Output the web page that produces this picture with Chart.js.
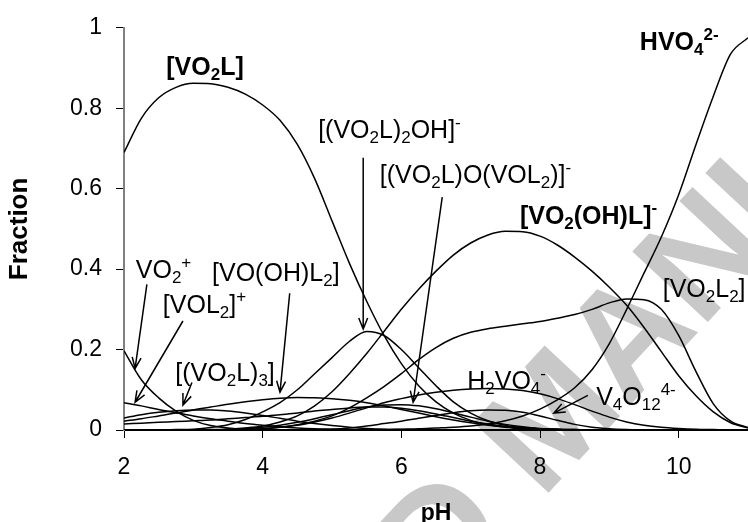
<!DOCTYPE html>
<html>
<head>
<meta charset="utf-8">
<script src="https://cdn.jsdelivr.net/npm/chart.js@4.4.0/dist/chart.umd.min.js"></script>
<style>
  html, body { margin: 0; padding: 0; background: #fff; }
  #wrap { width: 748px; height: 522px; position: relative; }
</style>
</head>
<body>
<div id="wrap"><canvas id="speciation"></canvas></div>
<script>
// pH grid and fractions
const pH = [2.00,2.25,2.50,2.75,3.00,3.25,3.50,3.75,4.00,4.25,4.50,4.75,5.00,5.25,5.50,5.75,6.00,6.25,6.50,6.75,
            7.00,7.25,7.50,7.75,8.00,8.25,8.50,8.75,9.00,9.25,9.50,9.75,10.00,10.25,10.50,10.75,11.00];
const xTicks = [2, 4, 6, 8, 10];
const yTicks = [0, 0.2, 0.4, 0.6, 0.8, 1];
const yTickLabels = ['0', '0.2', '0.4', '0.6', '0.8', '1'];

const vo2 = [0.197,0.125,0.080,0.047,0.024,0.011,0.005,0.002,0.001,0,0,0,0,0,0,0,0,0,0,0,0,0,0,0,0,0,0,0,0,0,0,0,0,0,0,0,0];
const vol2 = [0.068,0.060,0.051,0.043,0.035,0.028,0.022,0.016,0.012,0.008,0.005,0.003,0.002,0.001,0,0,0,0,0,0,0,0,0,0,0,0,0,0,0,0,0,0,0,0,0,0,0];
const trimer = [0.030,0.038,0.044,0.048,0.050,0.050,0.047,0.042,0.036,0.029,0.022,0.016,0.011,0.007,0.004,0.002,0.001,0,0,0,0,0,0,0,0,0,0,0,0,0,0,0,0,0,0,0,0];
const voohl2 = [0.022,0.028,0.035,0.042,0.050,0.057,0.064,0.070,0.075,0.079,0.081,0.080,0.078,0.074,0.068,0.060,0.051,0.042,0.033,0.025,0.018,0.012,0.008,0.005,0.003,0.002,0.001,0,0,0,0,0,0,0,0,0,0];
const minor = [0.015,0.017,0.019,0.021,0.023,0.025,0.028,0.031,0.034,0.038,0.042,0.047,0.051,0.055,0.057,0.057,0.054,0.048,0.040,0.031,0.022,0.015,0.009,0.005,0.003,0.001,0,0,0,0,0,0,0,0,0,0,0];
const vo2l = [0.690,0.775,0.826,0.852,0.862,0.861,0.852,0.835,0.808,0.770,0.710,0.625,0.520,0.415,0.320,0.235,0.165,0.110,0.070,0.042,0.024,0.013,0.007,0.003,0.001,0,0,0,0,0,0,0,0,0,0,0,0];
const dimerOH = [0,0,0,0.001,0.002,0.006,0.013,0.026,0.045,0.068,0.100,0.140,0.180,0.220,0.245,0.235,0.200,0.155,0.110,0.070,0.042,0.023,0.012,0.006,0.003,0.001,0,0,0,0,0,0,0,0,0,0,0];
const mixed = [0,0,0,0,0,0.001,0.002,0.004,0.007,0.012,0.019,0.028,0.038,0.048,0.057,0.062,0.063,0.060,0.053,0.043,0.032,0.022,0.014,0.008,0.004,0.002,0.001,0,0,0,0,0,0,0,0,0,0];
const hydroxo = [0,0,0,0,0,0,0.002,0.005,0.010,0.020,0.035,0.060,0.095,0.140,0.190,0.245,0.300,0.350,0.395,0.435,0.465,0.485,0.494,0.493,0.482,0.460,0.430,0.395,0.355,0.310,0.255,0.195,0.135,0.085,0.045,0.018,0.005];
const vo2l2 = [0,0,0,0,0,0,0,0.001,0.003,0.007,0.013,0.022,0.035,0.055,0.080,0.108,0.140,0.175,0.205,0.228,0.243,0.252,0.258,0.264,0.270,0.278,0.287,0.300,0.316,0.326,0.324,0.300,0.235,0.145,0.065,0.022,0.006];
const h2vo4 = [0,0,0,0,0,0,0.001,0.002,0.004,0.007,0.012,0.020,0.030,0.042,0.055,0.068,0.078,0.087,0.094,0.099,0.102,0.103,0.102,0.098,0.090,0.078,0.063,0.047,0.032,0.020,0.012,0.007,0.004,0.002,0.001,0,0];
const v4o12 = [0,0,0,0,0,0,0,0,0,0,0,0.001,0.002,0.005,0.010,0.016,0.022,0.029,0.036,0.043,0.048,0.050,0.049,0.044,0.035,0.024,0.014,0.007,0.003,0.001,0,0,0,0,0,0,0];
const hvo4 = [0,0,0,0,0,0,0,0,0,0,0,0,0,0,0.001,0.001,0.002,0.003,0.005,0.007,0.010,0.015,0.023,0.035,0.052,0.075,0.105,0.150,0.215,0.300,0.390,0.480,0.585,0.710,0.830,0.935,0.975];

const series = [vo2, vol2, trimer, voohl2, minor, vo2l, dimerOH, mixed, hydroxo, vo2l2, h2vo4, v4o12, hvo4];

// species labels: text with _sub and ^sup, left edge / baseline in data units
const labels = [
    { text: '[VO_2L]', x: 2.61, y: 0.882, bold: true },
    { text: 'HVO_4^{2-}', x: 9.44, y: 0.944, bold: true },
    { text: '[(VO_2L)_2OH]^-', x: 4.80, y: 0.725 },
    { text: '[(VO_2L)O(VOL_2)]^-', x: 5.69, y: 0.614 },
    { text: '[VO_2(OH)L]^-', x: 7.71, y: 0.513, bold: true },
    { text: '[VO_2L_2]', x: 9.77, y: 0.331 },
    { text: 'VO_2^+', x: 2.17, y: 0.377 },
    { text: '[VO(OH)L_2]', x: 3.27, y: 0.370 },
    { text: '[VOL_2]^+', x: 2.56, y: 0.291 },
    { text: '[(VO_2L)_3]', x: 2.74, y: 0.121 },
    { text: 'H_2VO_4^-', x: 6.95, y: 0.101 },
    { text: 'V_4O_{12}^{4-}', x: 8.81, y: 0.062 }
];

// arrows from label to curve [x1, y1, x2, y2]
const arrows = [
    [2.33, 0.362, 2.16, 0.153],
    [2.85, 0.271, 2.16, 0.069],
    [2.98, 0.118, 2.85, 0.062],
    [4.39, 0.340, 4.25, 0.094],
    [5.45, 0.677, 5.45, 0.251],
    [6.59, 0.579, 6.17, 0.069],
    [8.69, 0.086, 8.20, 0.042]
];

const FONT = '"Liberation Sans", Arial, sans-serif';

function parseRich(s) {
    const out = [];
    let buf = '', i = 0;
    while (i < s.length) {
        const c = s[i];
        if (c === '_' || c === '^') {
            if (buf) { out.push({ t: buf, m: 0 }); buf = ''; }
            let t;
            if (s[i + 1] === '{') {
                const j = s.indexOf('}', i);
                t = s.slice(i + 2, j);
                i = j + 1;
            } else {
                t = s[i + 1];
                i += 2;
            }
            out.push({ t: t, m: c === '_' ? 1 : -1 });
        } else {
            buf += c;
            i++;
        }
    }
    if (buf) out.push({ t: buf, m: 0 });
    return out;
}

function drawRich(ctx, text, x, y, size, bold) {
    const w = bold ? 'bold ' : '';
    let cx = x;
    parseRich(text).forEach(seg => {
        const fs = seg.m ? size * 0.68 : size;
        const dy = seg.m === 1 ? size * 0.2 : (seg.m === -1 ? -size * 0.42 : 0);
        ctx.font = w + fs + 'px ' + FONT;
        ctx.fillText(seg.t, cx, y + dy);
        cx += ctx.measureText(seg.t).width;
    });
}

const watermark = {
    id: 'watermark',
    beforeDraw(chart) {
        const ctx = chart.ctx;
        ctx.save();
        ctx.fillStyle = '#fff';
        ctx.fillRect(0, 0, chart.width, chart.height);
        ctx.translate(557, 423);
        ctx.rotate(-47 * Math.PI / 180);
        ctx.font = 'bold 150px ' + FONT;
        ctx.fillStyle = '#c8c8c8';
        ctx.textAlign = 'center';
        ctx.textBaseline = 'middle';
        ctx.fillText('ACCEPTED MANUSCRIPT', 0, 0);
        ctx.restore();
    }
};

const annotations = {
    id: 'annotations',
    afterDatasetsDraw(chart) {
        const ctx = chart.ctx;
        const xs = chart.scales.x, ys = chart.scales.y;
        ctx.save();
        ctx.fillStyle = '#000';
        ctx.textAlign = 'left';
        ctx.textBaseline = 'alphabetic';
        labels.forEach(l => {
            drawRich(ctx, l.text, xs.getPixelForValue(l.x), ys.getPixelForValue(l.y), 25, l.bold);
        });
        ctx.strokeStyle = '#000';
        ctx.lineWidth = 1.5;
        arrows.forEach(a => {
            const x1 = xs.getPixelForValue(a[0]), y1 = ys.getPixelForValue(a[1]);
            const x2 = xs.getPixelForValue(a[2]), y2 = ys.getPixelForValue(a[3]);
            const ang = Math.atan2(y2 - y1, x2 - x1);
            const hl = 12, spread = 0.38;
            ctx.beginPath();
            ctx.moveTo(x1, y1);
            ctx.lineTo(x2, y2);
            ctx.moveTo(x2 - hl * Math.cos(ang - spread), y2 - hl * Math.sin(ang - spread));
            ctx.lineTo(x2, y2);
            ctx.lineTo(x2 - hl * Math.cos(ang + spread), y2 - hl * Math.sin(ang + spread));
            ctx.stroke();
        });
        ctx.restore();
    }
};

var ctx = document.getElementById('speciation').getContext('2d');
new Chart(ctx, {
    type: 'line',
    data: {
        datasets: series.map(vals => ({
            data: pH.map((x, i) => ({ x: x, y: vals[i] })),
            borderColor: '#000',
            borderWidth: 1.5,
            pointRadius: 0,
            fill: false,
            cubicInterpolationMode: 'monotone'
        }))
    },
    options: {
        responsive: true,
        maintainAspectRatio: false,
        animation: false,
        layout: { padding: { top: 24, right: 0, left: 0, bottom: 0 } },
        plugins: { legend: { display: false }, tooltip: { enabled: false } },
        scales: {
            x: {
                type: 'linear',
                min: 2,
                max: 11,
                afterFit: s => { s.height = 92; },
                afterBuildTicks: s => { s.ticks = xTicks.map(v => ({ value: v })); },
                grid: { drawOnChartArea: false, drawTicks: true, tickLength: 8, color: '#000' },
                border: { color: '#000', width: 2 },
                ticks: { color: '#000', font: { family: FONT, size: 23 }, padding: 16, maxRotation: 0 },
                title: { display: true, text: 'pH', color: '#000', font: { family: FONT, size: 23, weight: 'bold', lineHeight: 0.7 }, padding: 0 }
            },
            y: {
                min: 0,
                max: 1,
                afterFit: s => { s.width = 124; },
                afterBuildTicks: s => { s.ticks = yTicks.map(v => ({ value: v })); },
                grid: { drawOnChartArea: false, drawTicks: true, tickLength: 8, color: '#000' },
                border: { color: '#808080', width: 2 },
                ticks: {
                    color: '#000',
                    font: { family: FONT, size: 23 },
                    padding: 14,
                    callback: (v) => yTickLabels[yTicks.indexOf(v)]
                },
                title: { display: true, text: 'Fraction', color: '#000', font: { family: FONT, size: 26, weight: 'bold', lineHeight: 1 }, padding: { top: 7, bottom: 0 } }
            }
        }
    },
    plugins: [watermark, annotations]
});
</script>
</body>
</html>
